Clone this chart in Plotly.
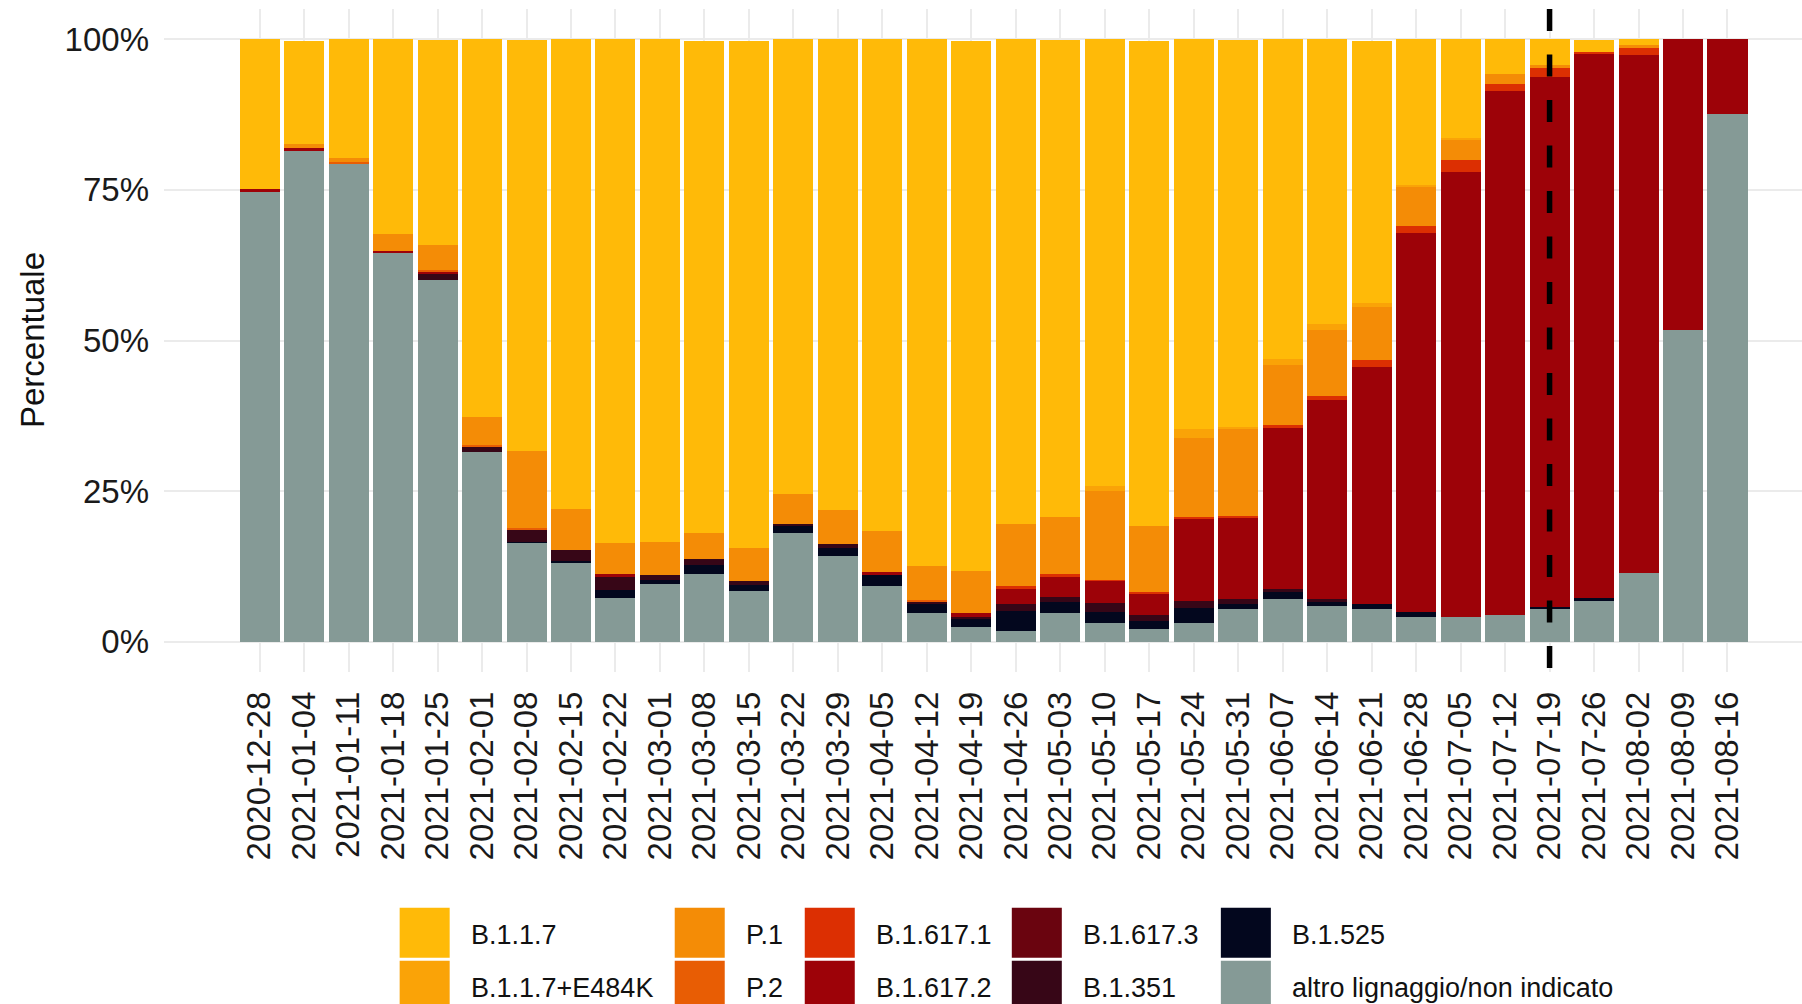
import plotly.graph_objects as go

# ── data (percent of sequenced samples per week) ─────────────────────────────
weeks = [
    "2020-12-28", "2021-01-04", "2021-01-11", "2021-01-18", "2021-01-25",
    "2021-02-01", "2021-02-08", "2021-02-15", "2021-02-22", "2021-03-01",
    "2021-03-08", "2021-03-15", "2021-03-22", "2021-03-29", "2021-04-05",
    "2021-04-12", "2021-04-19", "2021-04-26", "2021-05-03", "2021-05-10",
    "2021-05-17", "2021-05-24", "2021-05-31", "2021-06-07", "2021-06-14",
    "2021-06-21", "2021-06-28", "2021-07-05", "2021-07-12", "2021-07-19",
    "2021-07-26", "2021-08-02", "2021-08-09", "2021-08-16",
]

altro = [74.7, 81.4, 79.4, 64.5, 60.1, 31.5, 16.5, 13.1, 7.3, 9.6,
         11.2, 8.4, 18.1, 14.3, 9.35, 4.8, 2.5, 1.75, 4.8, 3.1,
         2.2, 3.2, 5.5, 7.05, 5.9, 5.5, 4.2, 4.2, 4.5, 5.6,
         6.8, 11.4, 51.8, 87.5]
b1525 = [0, 0, 0, 0, 0, 0, 0.1, 0.28, 1.26, 0.7,
         1.5, 1.1, 1.1, 1.2, 1.8, 1.4, 1.3, 3.35, 1.8, 1.8,
         1.3, 2.4, 0.7, 1.2, 0.7, 0.7, 0.77, 0, 0, 0.2,
         0.4, 0, 0, 0]
b1351 = [0, 0, 0, 0, 0.9, 0.9, 2.0, 1.8, 2.16, 0.77,
         1.05, 0.56, 0.35, 0.7, 0, 0.4, 0.35, 1.2, 0.84, 1.5,
         0.9, 1.25, 0.9, 0.56, 0.5, 0, 0, 0, 0, 0,
         0, 0, 0, 0]
b16173 = [0] * 34
b16172 = [0.5, 0.56, 0, 0.35, 0.5, 0, 0, 0, 0.56, 0,
          0, 0, 0, 0, 0.5, 0, 0.7, 2.5, 3.4, 3.7,
          3.5, 13.5, 13.4, 26.7, 33.1, 39.4, 62.9, 73.8, 86.9, 88.0,
          90.3, 85.9, 48.2, 12.5]
b16171 = [0, 0, 0, 0, 0, 0, 0, 0, 0, 0,
          0, 0, 0, 0, 0, 0, 0, 0.5, 0.35, 0.2,
          0.35, 0.4, 0.4, 0.5, 0.56, 1.1, 1.1, 1.9, 1.1, 1.4,
          0.4, 1.3, 0, 0]
p2 = [0, 0, 0.14, 0, 0.28, 0.28, 0.28, 0, 0, 0,
      0, 0, 0, 0, 0, 0.35, 0, 0, 0, 0,
      0, 0, 0, 0, 0, 0, 0, 0, 0, 0,
      0, 0, 0, 0]
p1 = [0, 0.7, 0.77, 2.8, 4.0, 4.6, 12.8, 6.8, 5.2, 5.5,
      4.3, 5.5, 5.0, 5.65, 6.8, 5.6, 6.9, 10.3, 9.5, 14.8,
      10.9, 13.0, 14.4, 10.0, 11.0, 8.9, 6.5, 3.3, 1.7, 0.56,
      0, 0.35, 0, 0]
b117_e484k = [0, 0, 0, 0, 0, 0, 0, 0, 0, 0,
              0, 0, 0, 0, 0, 0, 0, 0, 0, 0.84,
              0, 1.5, 0.4, 1.0, 0.9, 0.56, 0.4, 0.35, 0, 0,
              0, 0, 0, 0]
b117 = [24.8, 17.1, 19.7, 32.4, 34.0, 62.7, 68.2, 78.0, 83.6, 83.4,
        81.7, 84.2, 75.4, 78.1, 81.6, 87.4, 88.0, 80.4, 79.2, 74.1,
        80.5, 64.7, 64.2, 53.0, 47.3, 43.6, 24.1, 16.5, 5.9, 4.2,
        2.0, 1.0, 0, 0]

cutoff_week = "2021-07-19"

# bottom of the stack first
stack = [
    ("altro lignaggio/non indicato", altro, "#859A96"),
    ("B.1.525", b1525, "#03071E"),
    ("B.1.351", b1351, "#370617"),
    ("B.1.617.3", b16173, "#6A040F"),
    ("B.1.617.2", b16172, "#9D0208"),
    ("B.1.617.1", b16171, "#DC2F02"),
    ("P.2", p2, "#E85D04"),
    ("P.1", p1, "#F48C06"),
    ("B.1.1.7+E484K", b117_e484k, "#FAA307"),
    ("B.1.1.7", b117, "#FFBA08"),
]
legend_order = ["B.1.1.7", "B.1.1.7+E484K", "P.1", "P.2", "B.1.617.1",
                "B.1.617.2", "B.1.617.3", "B.1.351", "B.1.525",
                "altro lignaggio/non indicato"]

# ── geometry (pixels of the 1802x1004 page) ──────────────────────────────────
W, H = 1802, 1004
PL, PR, PT, PB = 164.4, 1802, 9.4, 671.6
FONT = "Liberation Sans, Arial, sans-serif"
GRID = "#EBEBEB"


def px(x):
    return (x - PL) / (PR - PL)


def py(y):
    return (PB - y) / (PB - PT)


fig = go.Figure()
for name, vals, color in stack:
    fig.add_trace(go.Bar(
        x=weeks, y=[v / 100 for v in vals], name=name,
        marker=dict(color=color, line=dict(width=0)),
        showlegend=False,
        hovertemplate="%{x}<br>" + name + ": %{y:.1%}<extra></extra>",
    ))

# vertical dashed marker
fig.add_shape(type="line", xref="x", yref="paper",
              x0=cutoff_week, x1=cutoff_week, y0=1, y1=0,
              line=dict(color="black", width=5.5, dash="22px,23.5px"))

# hand-made legend: 5 columns x 2 rows, filled column-wise
colors = {n: c for n, _, c in stack}
col_left = [400, 675, 805, 1012, 1221]
row_top = [907, 960]
KEY = 50
for i, name in enumerate(legend_order):
    c, r = divmod(i, 2)
    x0, y0 = col_left[c], row_top[r]
    fig.add_shape(type="rect", xref="paper", yref="paper",
                  x0=px(x0), x1=px(x0 + KEY), y0=py(y0), y1=py(y0 + KEY),
                  fillcolor=colors[name], line=dict(width=0), layer="above")
    fig.add_annotation(xref="paper", yref="paper",
                       x=px(x0 + 69), y=py(y0 + KEY / 2 + 2),
                       xanchor="left", yanchor="middle", showarrow=False,
                       text=name, font=dict(family=FONT, size=27, color="#111111"))

# y-axis title
fig.add_annotation(xref="paper", yref="paper", x=px(33), y=py(340.5),
                   xanchor="center", yanchor="middle", showarrow=False,
                   textangle=-90, text="Percentuale",
                   font=dict(family=FONT, size=33, color="#111111"))

fig.update_layout(
    width=W, height=H,
    barmode="stack", bargap=0.1,
    paper_bgcolor="white", plot_bgcolor="white",
    margin=dict(l=PL, r=W - PR, t=PT, b=H - PB, pad=0),
    font=dict(family=FONT, color="#222222"),
    showlegend=False,
    xaxis=dict(
        type="category",
        range=[-2.15, 34.675],
        tickmode="array", tickvals=weeks, ticktext=weeks,
        tickangle=-90,
        tickfont=dict(family=FONT, size=33, color="#1A1A1A"),
        ticklabelstandoff=12,
        showgrid=True, gridcolor=GRID, gridwidth=1.5,
        showline=False, ticks="", zeroline=False,
    ),
    yaxis=dict(
        range=[-0.05, 1.05],
        tickvals=[0, 0.25, 0.5, 0.75, 1],
        ticktext=["0%", "25%", "50%", "75%", "100%"],
        tickfont=dict(family=FONT, size=33, color="#1A1A1A"),
        ticklabelstandoff=14,
        showgrid=True, gridcolor=GRID, gridwidth=1.5,
        showline=False, ticks="", zeroline=False,
    ),
)

# drop the page's default 8px body margin so the figure sits at (0, 0)
fig.write_html("out.html", config={"displayModeBar": False},
               post_script="document.body.style.margin='0px';")
